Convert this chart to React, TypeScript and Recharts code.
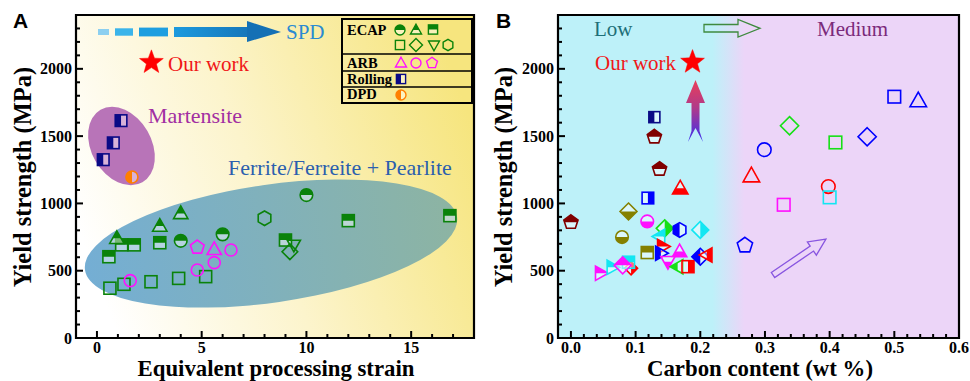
import React from 'react';
import { ScatterChart, Scatter, XAxis, YAxis, ReferenceArea } from 'recharts';

// ---------------- ticks ----------------
const yTicks = [0, 100, 200, 300, 400, 500, 600, 700, 800, 900, 1000, 1100, 1200, 1300, 1400, 1500, 1600, 1700, 1800, 1900, 2000, 2100, 2200, 2300];
const yTickLabels = [0, 500, 1000, 1500, 2000];
const xTicksA = [0, 1, 2, 3, 4, 5, 6, 7, 8, 9, 10, 11, 12, 13, 14, 15, 16, 17];
const xTickLabelsA = [0, 5, 10, 15];
const xTicksB = [0, 0.02, 0.04, 0.06, 0.08, 0.1, 0.12, 0.14, 0.16, 0.18, 0.2, 0.22, 0.24, 0.26, 0.28, 0.3, 0.32, 0.34, 0.36, 0.38, 0.4, 0.42, 0.44, 0.46, 0.48, 0.5, 0.52, 0.54, 0.56, 0.58, 0.6];
const xTickLabelsB = [0, 0.1, 0.2, 0.3, 0.4, 0.5, 0.6];

// ---------------- panel A data ----------------
const ecapHalfCircle = [{ x: 4.0, y: 722 }, { x: 6.0, y: 770 }, { x: 10.0, y: 1062 }];
const ecapHalfTriangle = [{ x: 0.95, y: 741 }, { x: 3.0, y: 832 }, { x: 4.0, y: 926 }];
const ecapHalfSquare = [{ x: 0.57, y: 604 }, { x: 1.18, y: 692 }, { x: 1.78, y: 692 }, { x: 3.0, y: 708 }, { x: 9.0, y: 728 }, { x: 12.0, y: 872 }, { x: 16.85, y: 909 }];
const ecapOpenSquare = [{ x: 0.62, y: 370 }, { x: 1.29, y: 399 }, { x: 2.58, y: 418 }, { x: 3.9, y: 443 }, { x: 5.19, y: 456 }];
const ecapDiamond = [{ x: 9.21, y: 641 }];
const ecapTriDown = [{ x: 9.4, y: 691 }];
const ecapHexagon = [{ x: 8.0, y: 890 }];
const arbTriangle = [{ x: 5.6, y: 659 }];
const arbCircle = [{ x: 1.59, y: 426 }, { x: 4.79, y: 505 }, { x: 5.6, y: 560 }, { x: 6.4, y: 654 }];
const arbPentagon = [{ x: 4.79, y: 674 }];
const rollingA = [{ x: 0.3, y: 1325 }, { x: 0.78, y: 1450 }, { x: 1.15, y: 1615 }];
const dpdA = [{ x: 1.67, y: 1196 }];
const ourWorkA = [{ x: 2.6, y: 2048 }];

// ---------------- panel B data ----------------
const bDarkRedPentagon = [{ x: 0.0, y: 860 }, { x: 0.129, y: 1495 }, { x: 0.137, y: 1255 }];
const bOliveDiamond = [{ x: 0.089, y: 940 }];
const bOliveCircle = [{ x: 0.079, y: 750 }];
const bOliveSquare = [{ x: 0.118, y: 635 }];
const bMagentaCircle = [{ x: 0.118, y: 866 }];
const bBlueSquare = [{ x: 0.119, y: 1040 }];
const bNavySquare = [{ x: 0.129, y: 1641 }];
const bRedTriUp = [{ x: 0.169, y: 1112 }];
const bGreenDiamond = [{ x: 0.145, y: 815 }];
const bCyanTriLeft = [{ x: 0.137, y: 755 }];
const bBlueHexagon = [{ x: 0.168, y: 803 }];
const bCyanDiamond = [{ x: 0.2, y: 803 }];
const bRedTriRight = [{ x: 0.142, y: 680 }];
const bBlueTriRight = [{ x: 0.139, y: 630 }];
const bMagentaTriUp = [{ x: 0.168, y: 642 }];
const bMagentaTriDown = [{ x: 0.15, y: 567 }];
const bGreenTriLeft = [{ x: 0.165, y: 530 }];
const bRedSquare = [{ x: 0.181, y: 530 }];
const bBlueDiamond = [{ x: 0.2, y: 604 }];
const bRedTriLeft = [{ x: 0.21, y: 617 }];
const bMagentaTriRight = [{ x: 0.046, y: 481 }];
const bCyanTriRight = [{ x: 0.064, y: 525 }];
const bMagentaDiamond = [{ x: 0.08, y: 540 }];
const bCyanSquare = [{ x: 0.089, y: 563 }];
const bRedDiamond = [{ x: 0.093, y: 518 }];
const bBlueOpenSquare = [{ x: 0.5, y: 1793 }];
const bBlueOpenTriangle = [{ x: 0.537, y: 1763 }];
const bBlueOpenDiamond = [{ x: 0.458, y: 1495 }];
const bGreenOpenDiamond = [{ x: 0.338, y: 1577 }];
const bGreenOpenSquare = [{ x: 0.409, y: 1453 }];
const bBlueOpenCircle = [{ x: 0.299, y: 1399 }];
const bRedOpenTriangle = [{ x: 0.279, y: 1205 }];
const bRedOpenCircle = [{ x: 0.398, y: 1125 }];
const bCyanOpenSquare = [{ x: 0.4, y: 1045 }];
const bMagentaOpenSquare = [{ x: 0.329, y: 990 }];
const bBlueOpenPentagon = [{ x: 0.269, y: 688 }];
const ourWorkB = [{ x: 0.188, y: 2050 }];

// annotation regions (data units)
const martensiteRegion = { x1: -0.83, x2: 3.17, y1: 1203, y2: 1649, angle: 60 };
const ferriteRegion = { x1: -0.66, x2: 17.28, y1: 264, y2: 1140, angle: -8.1 };

// ---------------- colours ----------------
const GREEN_A = '#0a820a';
const MAGENTA = '#ff10ff';
const NAVY = '#0a0a86';
const ORANGE = '#ff7f00';
const RED = '#ff0000';
const BLUE = '#0000ff';
const LIME = '#16e016';
const CYAN = '#12e6f2';
const OLIVE = '#848000';
const DARKRED = '#800000';

const SERIF = "'Liberation Serif','Times New Roman',serif";
const SANS = "'Liberation Sans',Arial,sans-serif";

type Kind = 'circle' | 'square' | 'triUp' | 'triDown' | 'triLeft' | 'triRight' | 'diamond' | 'pentagon' | 'hexagon' | 'star';
type Half = 'none' | 'top' | 'bottom' | 'left' | 'right' | 'full';

function regular(n: number, r: number, rot: number) {
  const out: number[][] = [];
  for (let k = 0; k < n; k++) {
    const a = ((rot + (360 * k) / n) * Math.PI) / 180;
    out.push([r * Math.cos(a), r * Math.sin(a)]);
  }
  return out;
}
function starPts() {
  const out: number[][] = [];
  for (let k = 0; k < 10; k++) {
    const r = k % 2 === 0 ? 1 : 0.42;
    const a = ((-90 + 36 * k) * Math.PI) / 180;
    out.push([r * Math.cos(a), r * Math.sin(a)]);
  }
  return out;
}
const UNIT: Record<string, number[][]> = {
  triUp: [[0, -1.15], [1.1, 0.8], [-1.1, 0.8]],
  triDown: [[0, 1.15], [1.1, -0.8], [-1.1, -0.8]],
  triLeft: [[-1.15, 0], [0.8, -1.1], [0.8, 1.1]],
  triRight: [[1.15, 0], [-0.8, -1.1], [-0.8, 1.1]],
  diamond: [[0, -1.3], [1.3, 0], [0, 1.3], [-1.3, 0]],
  pentagon: regular(5, 1.15, -90),
  hexagon: regular(6, 1.12, -90),
  star: starPts(),
};

function Geom(props: any) {
  const { kind, cx, cy, s, ...rest } = props;
  if (kind === 'circle') return <circle cx={cx} cy={cy} r={s} {...rest} />;
  if (kind === 'square') return <rect x={cx - s} y={cy - s} width={2 * s} height={2 * s} {...rest} />;
  const p = UNIT[kind].map(([a, b]) => `${cx + a * s},${cy + b * s}`).join(' ');
  return <polygon points={p} {...rest} />;
}

function Marker(props: { cx?: number; cy?: number; kind: Kind; color: string; half: Half; s: number; sw?: number }) {
  const rid = React.useId();
  const id = 'c' + rid.replace(/[^a-zA-Z0-9_-]/g, '');
  const { cx, cy, kind, color, half, s } = props;
  const sw = props.sw ?? 1.6;
  if (cx == null || cy == null || isNaN(cx) || isNaN(cy)) return null;
  const b = s * 2;
  let clip: any = null;
  if (half === 'top') clip = { x: cx - b, y: cy - b, w: 2 * b, h: b };
  if (half === 'bottom') clip = { x: cx - b, y: cy, w: 2 * b, h: b };
  if (half === 'left') clip = { x: cx - b, y: cy - b, w: b, h: 2 * b };
  if (half === 'right') clip = { x: cx, y: cy - b, w: b, h: 2 * b };
  const baseFill = half === 'full' ? color : half === 'none' ? 'none' : 'rgba(255,255,255,0.45)';
  return (
    <g>
      {clip && (
        <defs>
          <clipPath id={id}>
            <rect x={clip.x} y={clip.y} width={clip.w} height={clip.h} />
          </clipPath>
        </defs>
      )}
      <Geom kind={kind} cx={cx} cy={cy} s={s} fill={baseFill} stroke={color} strokeWidth={half === 'full' ? 0.5 : sw} strokeLinejoin="miter" />
      {clip && <Geom kind={kind} cx={cx} cy={cy} s={s} fill={color} stroke="none" clipPath={`url(#${id})`} />}
    </g>
  );
}

type Series = { name: string; data: { x: number; y: number }[]; kind: Kind; color: string; half: Half; s: number; sw?: number };

const seriesA: Series[] = [
  { name: 'ecapOpenSquare', data: ecapOpenSquare, kind: 'square', color: GREEN_A, half: 'none', s: 6 },
  { name: 'ecapHalfSquare', data: ecapHalfSquare, kind: 'square', color: GREEN_A, half: 'top', s: 6 },
  { name: 'ecapTriDown', data: ecapTriDown, kind: 'triDown', color: GREEN_A, half: 'none', s: 6 },
  { name: 'ecapDiamond', data: ecapDiamond, kind: 'diamond', color: GREEN_A, half: 'none', s: 6 },
  { name: 'ecapHexagon', data: ecapHexagon, kind: 'hexagon', color: GREEN_A, half: 'none', s: 6.5 },
  { name: 'ecapHalfCircle', data: ecapHalfCircle, kind: 'circle', color: GREEN_A, half: 'top', s: 6.3 },
  { name: 'ecapHalfTriangle', data: ecapHalfTriangle, kind: 'triUp', color: GREEN_A, half: 'top', s: 6.5 },
  { name: 'arbCircle', data: arbCircle, kind: 'circle', color: MAGENTA, half: 'none', s: 6 },
  { name: 'arbTriangle', data: arbTriangle, kind: 'triUp', color: MAGENTA, half: 'none', s: 6.5 },
  { name: 'arbPentagon', data: arbPentagon, kind: 'pentagon', color: MAGENTA, half: 'none', s: 6.3 },
  { name: 'rolling', data: rollingA, kind: 'square', color: NAVY, half: 'left', s: 5.8 },
  { name: 'dpd', data: dpdA, kind: 'circle', color: ORANGE, half: 'left', s: 6 },
  { name: 'ourWorkA', data: ourWorkA, kind: 'star', color: RED, half: 'full', s: 12.5 },
];

const seriesB: Series[] = [
  { name: 'bDarkRedPentagon', data: bDarkRedPentagon, kind: 'pentagon', color: DARKRED, half: 'top', s: 6.5 },
  { name: 'bOliveDiamond', data: bOliveDiamond, kind: 'diamond', color: OLIVE, half: 'bottom', s: 6.5 },
  { name: 'bOliveCircle', data: bOliveCircle, kind: 'circle', color: OLIVE, half: 'bottom', s: 6.3 },
  { name: 'bOliveSquare', data: bOliveSquare, kind: 'square', color: OLIVE, half: 'top', s: 6 },
  { name: 'bMagentaCircle', data: bMagentaCircle, kind: 'circle', color: MAGENTA, half: 'bottom', s: 6.3 },
  { name: 'bBlueSquare', data: bBlueSquare, kind: 'square', color: BLUE, half: 'right', s: 5.8 },
  { name: 'bNavySquare', data: bNavySquare, kind: 'square', color: NAVY, half: 'left', s: 5.5 },
  { name: 'bRedTriUp', data: bRedTriUp, kind: 'triUp', color: RED, half: 'bottom', s: 7 },
  { name: 'bGreenDiamond', data: bGreenDiamond, kind: 'diamond', color: LIME, half: 'right', s: 6.5 },
  { name: 'bCyanTriLeft', data: bCyanTriLeft, kind: 'triLeft', color: CYAN, half: 'top', s: 6.5 },
  { name: 'bBlueHexagon', data: bBlueHexagon, kind: 'hexagon', color: BLUE, half: 'left', s: 6.5 },
  { name: 'bCyanDiamond', data: bCyanDiamond, kind: 'diamond', color: CYAN, half: 'right', s: 6.5 },
  { name: 'bRedTriRight', data: bRedTriRight, kind: 'triRight', color: RED, half: 'top', s: 6.5 },
  { name: 'bBlueTriRight', data: bBlueTriRight, kind: 'triRight', color: BLUE, half: 'left', s: 6.5 },
  { name: 'bMagentaTriUp', data: bMagentaTriUp, kind: 'triUp', color: MAGENTA, half: 'bottom', s: 6.5 },
  { name: 'bMagentaTriDown', data: bMagentaTriDown, kind: 'triDown', color: MAGENTA, half: 'bottom', s: 6.5 },
  { name: 'bGreenTriLeft', data: bGreenTriLeft, kind: 'triLeft', color: LIME, half: 'left', s: 6.5 },
  { name: 'bRedSquare', data: bRedSquare, kind: 'square', color: RED, half: 'right', s: 6 },
  { name: 'bBlueDiamond', data: bBlueDiamond, kind: 'diamond', color: BLUE, half: 'left', s: 6.5 },
  { name: 'bRedTriLeft', data: bRedTriLeft, kind: 'triLeft', color: RED, half: 'right', s: 6.5 },
  { name: 'bMagentaTriRight', data: bMagentaTriRight, kind: 'triRight', color: MAGENTA, half: 'top', s: 6.5 },
  { name: 'bCyanTriRight', data: bCyanTriRight, kind: 'triRight', color: CYAN, half: 'top', s: 6.5 },
  { name: 'bRedDiamond', data: bRedDiamond, kind: 'diamond', color: RED, half: 'right', s: 5 },
  { name: 'bCyanSquare', data: bCyanSquare, kind: 'square', color: CYAN, half: 'top', s: 6 },
  { name: 'bMagentaDiamond', data: bMagentaDiamond, kind: 'diamond', color: MAGENTA, half: 'top', s: 6.5 },
  { name: 'bBlueOpenSquare', data: bBlueOpenSquare, kind: 'square', color: BLUE, half: 'none', s: 6.3 },
  { name: 'bBlueOpenTriangle', data: bBlueOpenTriangle, kind: 'triUp', color: BLUE, half: 'none', s: 7.5 },
  { name: 'bBlueOpenDiamond', data: bBlueOpenDiamond, kind: 'diamond', color: BLUE, half: 'none', s: 7 },
  { name: 'bGreenOpenDiamond', data: bGreenOpenDiamond, kind: 'diamond', color: LIME, half: 'none', s: 7 },
  { name: 'bGreenOpenSquare', data: bGreenOpenSquare, kind: 'square', color: LIME, half: 'none', s: 6.3 },
  { name: 'bBlueOpenCircle', data: bBlueOpenCircle, kind: 'circle', color: BLUE, half: 'none', s: 6.8 },
  { name: 'bRedOpenTriangle', data: bRedOpenTriangle, kind: 'triUp', color: RED, half: 'none', s: 7.5 },
  { name: 'bRedOpenCircle', data: bRedOpenCircle, kind: 'circle', color: RED, half: 'none', s: 6.8 },
  { name: 'bCyanOpenSquare', data: bCyanOpenSquare, kind: 'square', color: CYAN, half: 'none', s: 6.3 },
  { name: 'bMagentaOpenSquare', data: bMagentaOpenSquare, kind: 'square', color: MAGENTA, half: 'none', s: 6.3 },
  { name: 'bBlueOpenPentagon', data: bBlueOpenPentagon, kind: 'pentagon', color: BLUE, half: 'none', s: 7 },
  { name: 'ourWorkB', data: ourWorkB, kind: 'star', color: RED, half: 'full', s: 12.5 },
];

const tickText = { fontFamily: SERIF, fontWeight: 700, fontSize: 16, fill: '#000' } as const;

const makeXTick = (labels: number[], fmt: (v: number) => string) => (p: any) => {
  const v = p.payload.value;
  const major = labels.some((l) => Math.abs(l - v) < 1e-9);
  return (
    <g>
      <line x1={p.x} x2={p.x} y1={p.y} y2={p.y - (major ? 7 : 4)} stroke="#000" strokeWidth={2} />
      {major && (
        <text x={p.x} y={p.y + 14.5} textAnchor="middle" {...tickText}>
          {fmt(v)}
        </text>
      )}
    </g>
  );
};
const makeYTick = () => (p: any) => {
  const v = p.payload.value;
  const major = yTickLabels.includes(v);
  return (
    <g>
      <line x1={p.x} x2={p.x + (major ? 7 : 4)} y1={p.y} y2={p.y} stroke="#000" strokeWidth={2} />
      {major && (
        <text x={p.x - 4} y={p.y} dy="0.35em" textAnchor="end" {...tickText}>
          {v}
        </text>
      )}
    </g>
  );
};

const ellipseShape = (angle: number, fill: string) => (p: any) => {
  const w = Math.abs(p.width);
  const h = Math.abs(p.height);
  const x = Math.min(p.x, p.x + p.width);
  const y = Math.min(p.y, p.y + p.height);
  const cx = x + w / 2;
  const cy = y + h / 2;
  return <ellipse cx={cx} cy={cy} rx={w / 2} ry={h / 2} fill={fill} transform={`rotate(${angle} ${cx} ${cy})`} />;
};

function renderSeries(list: Series[]) {
  return list.map((sr) => (
    <Scatter
      key={sr.name}
      name={sr.name}
      data={sr.data}
      dataKey="y"
      isAnimationActive={false}
      shape={(p: any) => <Marker cx={p.cx} cy={p.cy} kind={sr.kind} color={sr.color} half={sr.half} s={sr.s} sw={sr.sw} />}
    />
  ));
}

function PanelA() {
  return (
    <ScatterChart width={485} height={381} margin={{ top: 15, right: 11, bottom: 0, left: 0 }}>
      <XAxis type="number" dataKey="x" domain={[-1, 18]} allowDataOverflow ticks={xTicksA} interval={0} height={43} tickSize={0} tickMargin={0} axisLine={false} tickLine={false} tick={makeXTick(xTickLabelsA, (v) => String(v))} />
      <YAxis type="number" dataKey="y" domain={[0, 2400]} allowDataOverflow ticks={yTicks} interval={0} width={76} tickSize={0} tickMargin={0} axisLine={false} tickLine={false} tick={makeYTick()} />
      <ReferenceArea x1={-1} x2={18} y1={0} y2={2400} fill="url(#bgA)" fillOpacity={1} stroke="none" />
      <ReferenceArea x1={martensiteRegion.x1} x2={martensiteRegion.x2} y1={martensiteRegion.y1} y2={martensiteRegion.y2} shape={ellipseShape(martensiteRegion.angle, '#b874b8')} />
      <ReferenceArea x1={ferriteRegion.x1} x2={ferriteRegion.x2} y1={ferriteRegion.y1} y2={ferriteRegion.y2} shape={ellipseShape(ferriteRegion.angle, 'url(#ellF)')} />
      {renderSeries(seriesA)}
      <ReferenceArea x1={-1} x2={18} y1={0} y2={2400} fill="none" fillOpacity={0} stroke="#000" strokeWidth={2.2} />
    </ScatterChart>
  );
}

function PanelB() {
  return (
    <ScatterChart width={485} height={381} margin={{ top: 15, right: 11, bottom: 0, left: 0 }}>
      <XAxis type="number" dataKey="x" domain={[-0.02, 0.6]} allowDataOverflow ticks={xTicksB} interval={0} height={43} tickSize={0} tickMargin={0} axisLine={false} tickLine={false} tick={makeXTick(xTickLabelsB, (v) => v.toFixed(1))} />
      <YAxis type="number" dataKey="y" domain={[0, 2400]} allowDataOverflow ticks={yTicks} interval={0} width={73} tickSize={0} tickMargin={0} axisLine={false} tickLine={false} tick={makeYTick()} />
      <ReferenceArea x1={-0.02} x2={0.6} y1={0} y2={2400} fill="url(#bgB)" fillOpacity={1} stroke="none" />
      {renderSeries(seriesB)}
      <ReferenceArea x1={-0.02} x2={0.6} y1={0} y2={2400} fill="none" fillOpacity={0} stroke="#000" strokeWidth={2.2} />
    </ScatterChart>
  );
}

function LegendBox() {
  const t = { fontFamily: SERIF, fontWeight: 700, fontSize: 14.5, fill: '#000' } as const;
  return (
    <g>
      <rect x={342} y={19} width={130} height={84} fill="none" stroke="#000" strokeWidth={2} />
      <line x1={342} x2={472} y1={54} y2={54} stroke="#000" strokeWidth={1.3} />
      <line x1={342} x2={472} y1={71} y2={71} stroke="#000" strokeWidth={1.3} />
      <line x1={342} x2={472} y1={87} y2={87} stroke="#000" strokeWidth={1.3} />
      <text x={347} y={35} {...t}>ECAP</text>
      <text x={347} y={68} {...t}>ARB</text>
      <text x={347} y={84} {...t}>Rolling</text>
      <text x={347} y={99} {...t}>DPD</text>
      <Marker cx={400} cy={30} kind="circle" color={GREEN_A} half="top" s={5} sw={1.4} />
      <Marker cx={416} cy={30} kind="triUp" color={GREEN_A} half="top" s={5} sw={1.4} />
      <Marker cx={433} cy={29.5} kind="square" color={GREEN_A} half="top" s={4.6} sw={1.4} />
      <Marker cx={400} cy={45} kind="square" color={GREEN_A} half="none" s={4.6} sw={1.4} />
      <Marker cx={416} cy={45} kind="diamond" color={GREEN_A} half="none" s={5} sw={1.4} />
      <Marker cx={434} cy={45} kind="triDown" color={GREEN_A} half="none" s={5} sw={1.4} />
      <Marker cx={448} cy={45} kind="hexagon" color={GREEN_A} half="none" s={5} sw={1.4} />
      <Marker cx={401} cy={63} kind="triUp" color={MAGENTA} half="none" s={5} sw={1.4} />
      <Marker cx={416} cy={63} kind="circle" color={MAGENTA} half="none" s={5} sw={1.4} />
      <Marker cx={432} cy={63} kind="pentagon" color={MAGENTA} half="none" s={5} sw={1.4} />
      <Marker cx={401} cy={79} kind="square" color={NAVY} half="left" s={4.6} sw={1.4} />
      <Marker cx={401} cy={95} kind="circle" color={ORANGE} half="left" s={5} sw={1.4} />
    </g>
  );
}

function Overlay() {
  const ann = { fontFamily: SERIF, fontSize: 21 } as const;
  const title = { fontFamily: SERIF, fontWeight: 700, fontSize: 24.5, fill: '#000' } as const;
  const xTitle = { fontFamily: SERIF, fontWeight: 700, fontSize: 22.8, fill: '#000' } as const;
  return (
    <svg width={970} height={381} style={{ position: 'absolute', left: 0, top: 0, pointerEvents: 'none' }}>
      <defs>
        <linearGradient id="bgA" x1="0" y1="0.65" x2="1" y2="0.35">
          <stop offset="0" stopColor="#ffffff" />
          <stop offset="0.45" stopColor="#fcf4cc" />
          <stop offset="1" stopColor="#f6e57e" />
        </linearGradient>
        <linearGradient id="bgB" x1="0" y1="0" x2="1" y2="0">
          <stop offset="0" stopColor="#bdf1f9" />
          <stop offset="0.385" stopColor="#bdf1f9" />
          <stop offset="0.465" stopColor="#ecd5f8" />
          <stop offset="1" stopColor="#ecd5f8" />
        </linearGradient>
        <linearGradient id="ellF" x1="0" y1="0" x2="1" y2="0">
          <stop offset="0" stopColor="#74aed4" />
          <stop offset="1" stopColor="#8db4a2" />
        </linearGradient>
        <linearGradient id="spdShaft" x1="0" y1="0" x2="1" y2="0">
          <stop offset="0" stopColor="#1c9ade" />
          <stop offset="1" stopColor="#1676ba" />
        </linearGradient>
        <linearGradient id="upArrow" x1="0" y1="0" x2="0" y2="1">
          <stop offset="0" stopColor="#ea3e58" />
          <stop offset="0.45" stopColor="#b03a8a" />
          <stop offset="1" stopColor="#3a2ef0" />
        </linearGradient>
      </defs>

      {/* Panel letters */}
      <text x={13} y={28} fontFamily={SANS} fontWeight={700} fontSize={21}>A</text>
      <text x={496} y={28} fontFamily={SANS} fontWeight={700} fontSize={21}>B</text>

      {/* Axis titles */}
      <text transform="translate(31,177) rotate(-90)" textAnchor="middle" {...title}>Yield strength (MPa)</text>
      <text transform="translate(512,177) rotate(-90)" textAnchor="middle" {...title}>Yield strength (MPa)</text>
      <text x={276} y={375.5} textAnchor="middle" {...xTitle}>Equivalent processing strain</text>
      <text x={760} y={375.5} textAnchor="middle" {...xTitle}>Carbon content (wt %)</text>

      {/* Panel A annotations */}
      <rect x={98} y={29} width={11} height={6} fill="#8ccff0" />
      <rect x={115} y={28.3} width={18} height={7.4} fill="#3ab4ea" />
      <rect x={139} y={27.6} width={29} height={8.8} fill="#1d9ee0" />
      <rect x={174} y={27} width={75} height={10} fill="url(#spdShaft)" />
      <polygon points="247,21 281,32 247,42" fill="#1470b5" />
      <text x={286} y={39} fill="#2a8ad2" {...ann}>SPD</text>
      <text x={168} y={71} fill="#f01818" {...ann}>Our work</text>
      <text x={148} y={123} fill="#a22ea2" {...ann} fontSize={22}>Martensite</text>
      <text x={228} y={175} fill="#2b5fae" {...ann} fontSize={22}>Ferrite/Ferreite + Pearlite</text>
      <LegendBox />

      {/* Panel B annotations */}
      <text x={594} y={36} fill="#1d6f78" {...ann}>Low</text>
      <text x={817} y={36} fill="#7b2a7b" {...ann}>Medium</text>
      <polygon points="704,24.5 738,24.5 738,19.5 760,28.3 738,37 738,32 704,32" fill="none" stroke="#3f8a3f" strokeWidth={1.3} />
      <text x={595} y={70} fill="#f01818" {...ann}>Our work</text>
      <polygon points="695.5,80 705,103 699.5,103 699.5,131 703,142 695.5,128 688,142 691.5,131 691.5,103 686,103" fill="url(#upArrow)" />
      <g transform="translate(773,275) rotate(-34.2)">
        <polygon points="0,-3 47,-3 47,-8 64,0 47,8 47,3 0,3" fill="none" stroke="#8855e0" strokeWidth={1.3} />
      </g>
    </svg>
  );
}

export default function App() {
  return (
    <div style={{ position: 'absolute', left: 0, top: 0, width: 970, height: 381, background: '#fff', overflow: 'hidden' }}>
      <div style={{ position: 'absolute', left: 0, top: 0 }}>
        <PanelA />
      </div>
      <div style={{ position: 'absolute', left: 485, top: 0 }}>
        <PanelB />
      </div>
      <Overlay />
    </div>
  );
}
